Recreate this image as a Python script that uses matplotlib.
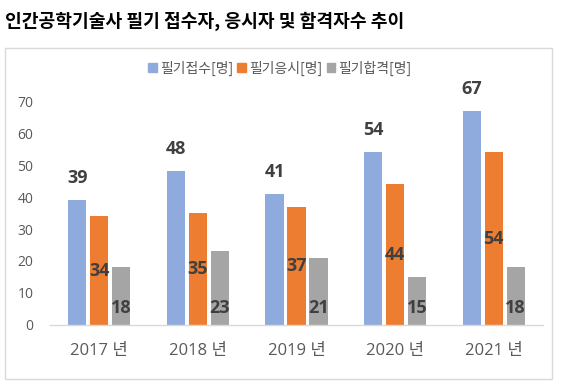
import matplotlib
matplotlib.use("Agg")
import matplotlib.pyplot as plt
from matplotlib.patches import Rectangle
import numpy as np

plt.rcParams['font.family'] = ['Open Sans', 'Noto Sans CJK KR', 'DejaVu Sans']

years = ["2017 년", "2018 년", "2019 년", "2020 년", "2021 년"]
series_names = ["필기접수[명]", "필기응시[명]", "필기합격[명]"]
applied = [39, 48, 41, 54, 67]
taken = [34, 35, 37, 44, 54]
passed = [18, 23, 21, 15, 18]
yticks = [0, 10, 20, 30, 40, 50, 60, 70]
title = "인간공학기술사 필기 접수자, 응시자 및 합격자수 추이"

colors = ["#8FAADC", "#ED7D31", "#A5A5A5"]
label_color = "#404040"

W, H = 565, 390
fig = plt.figure(figsize=(W/100, H/100), dpi=100)

# outer chart box
fig.patches.append(Rectangle((5/W, 1-379/H), (552-5)/W, (379-48)/H,
                             transform=fig.transFigure, fill=False,
                             edgecolor="#D9D9D9", linewidth=1.0))

ax = fig.add_axes([50/W, 1-325/H, (543-50)/W, (325-101)/H])
x = np.arange(len(years))
bw = 0.183
step = 0.223
data = [applied, taken, passed]
bars = []
for i, (vals, c, name) in enumerate(zip(data, colors, series_names)):
    b = ax.bar(x + (i-1)*step, vals, width=bw, color=c, label=name, zorder=2)
    bars.append(b)

lbl_kw = dict(fontsize=13, fontweight="bold", color=label_color,
              family=['Open Sans', 'DejaVu Sans'])
for rect, v in zip(bars[0], applied):
    ax.annotate(str(v), (rect.get_x()+rect.get_width()/2, v), xytext=(0, 22),
                textcoords="offset pixels", ha="center", va="center",
                annotation_clip=False, **lbl_kw)
for rect, v in zip(bars[1], taken):
    ax.text(rect.get_x()+rect.get_width()/2, v/2, str(v), ha="center", va="center",
            **lbl_kw)
for rect, v in zip(bars[2], passed):
    ax.annotate(str(v), (rect.get_x()+rect.get_width()/2, 0), xytext=(0, 17),
                textcoords="offset pixels", ha="center", va="center", **lbl_kw)

ax.set_xlim(-0.5, len(years)-0.5)
ax.set_ylim(0, 70)
ax.set_yticks(yticks)
ax.set_xticks(x)
ax.set_xticklabels(years, fontsize=12, color="#595959")
ax.tick_params(axis='y', length=0, pad=12, labelsize=10, labelcolor="#595959")
ax.tick_params(axis='x', length=0, pad=13)
for s in ["top", "right", "left"]:
    ax.spines[s].set_visible(False)
ax.spines["bottom"].set_color("#D9D9D9")
ax.spines["bottom"].set_linewidth(1.0)
ax.set_facecolor("none")

handles = [Rectangle((0, 0), 1, 1, color=c) for c in colors]
fig.legend(handles, series_names, loc="center", bbox_to_anchor=(280/W, 1-68/H),
           ncol=3, frameon=False, fontsize=10, handlelength=0.6, handleheight=0.6,
           handletextpad=0.25, columnspacing=0.3, labelcolor="#595959",
           prop={'family': ['Noto Sans CJK KR'], 'size': 10})

fig.text(5/W, 1-21/H, title, ha="left", va="center", fontsize=13.1, fontweight="bold",
         color="black", family=['Noto Sans CJK KR'])

fig.savefig("out.png", dpi=100)
